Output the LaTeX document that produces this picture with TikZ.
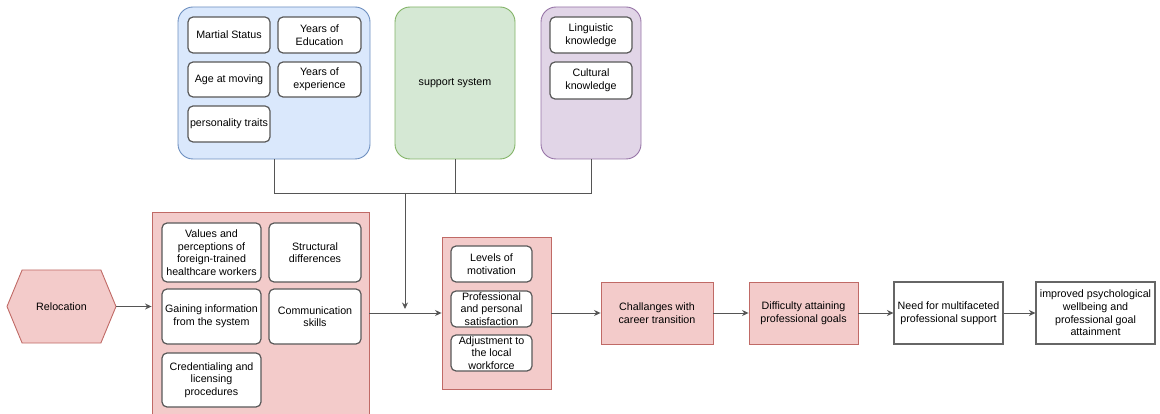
\documentclass[tikz,border=0pt]{standalone}
\usepackage{fontspec}
\setmainfont{Liberation Sans}
\usepackage[dvipsnames,svgnames,x11names]{xcolor}
\usetikzlibrary{arrows.meta,shapes.symbols}

\definecolor{blueFill}{HTML}{DAE8FC}
\definecolor{blueLine}{HTML}{6C8EBF}
\definecolor{greenFill}{HTML}{D5E8D4}
\definecolor{greenLine}{HTML}{82B366}
\definecolor{purpleFill}{HTML}{E1D5E7}
\definecolor{purpleLine}{HTML}{9673A6}
\definecolor{redFill}{HTML}{F3CBCA}
\definecolor{redLine}{HTML}{C06A66}
\definecolor{wireGray}{HTML}{555555}

\begin{document}
\begin{tikzpicture}[x=1pt,y=-1pt,font=\fontsize{10.7}{12.6}\selectfont,>={Stealth[length=6.5pt,width=6pt]},
  group/.style={rectangle,rounded corners=15pt,line width=0.9pt,minimum height=152pt,inner sep=0pt,align=center},
  panel/.style={rectangle,fill=redFill,draw=redLine,line width=0.9pt,inner sep=0pt},
  item/.style={rectangle,rounded corners=5pt,fill=white,draw=black!65,line width=1.2pt,inner sep=0pt,align=center},
  stage/.style={rectangle,draw=black!60,line width=1.1pt,minimum height=62pt,inner sep=0pt,align=center},
  wire/.style={draw=wireGray,line width=0.9pt}]
\useasboundingbox (0,0) rectangle (1160,414);

% personal background
\node[group,fill=blueFill,draw=blueLine,minimum width=192pt] (personal) at (274,83) {};
\node[item,minimum width=82pt,minimum height=36pt] (marital) at (229,35) {Martial Status};
\node[item,minimum width=83pt,minimum height=36pt] (education) at (319.5,35) {Years of\\Education};
\node[item,minimum width=82pt,minimum height=35pt] (age) at (229,79.5) {Age at moving};
\node[item,minimum width=83pt,minimum height=35pt] (experience) at (319.5,79.5) {Years of\\experience};
\node[item,minimum width=82pt,minimum height=36pt] (traits) at (229,124) {personality traits};

\node[group,fill=greenFill,draw=greenLine,minimum width=120pt] (support) at (455,83) {support system};

\node[group,fill=purpleFill,draw=purpleLine,minimum width=100pt] (language) at (591,83) {};
\node[item,minimum width=82pt,minimum height=36pt] (linguistic) at (591,35) {Linguistic\\knowledge};
\node[item,minimum width=82pt,minimum height=37pt] (cultural) at (591,80.5) {Cultural\\knowledge};

% relocation and first barriers
\node[signal,signal to=west and east,signal pointer angle=135,fill=redFill,draw=redLine,line width=0.9pt,minimum width=109pt,minimum height=73pt,inner sep=0pt] (relocation) at (61.5,306.5) {Relocation};

\node[panel,minimum width=217pt,minimum height=202pt] (barriers) at (260.5,313) {};
\node[item,minimum width=99pt,minimum height=59pt] (values) at (211.5,252.5) {Values and\\perceptions of\\foreign-trained\\healthcare workers};
\node[item,minimum width=92pt,minimum height=59pt] (structural) at (315,252.5) {Structural\\differences};
\node[item,minimum width=99pt,minimum height=55pt] (gaining) at (211.5,316.5) {Gaining information\\from the system};
\node[item,minimum width=92pt,minimum height=55pt] (communication) at (315,316.5) {Communication\\skills};
\node[item,minimum width=99pt,minimum height=54pt] (credentials) at (211.5,380) {Credentialing and\\licensing\\procedures};

% personal factors
\node[panel,minimum width=109pt,minimum height=152pt] (factors) at (496.5,313) {};
\node[item,minimum width=81pt,minimum height=36pt] (motivation) at (491.5,264) {Levels of\\motivation};
\node[item,minimum width=81pt,minimum height=36pt] (satisfaction) at (491.5,309) {Professional\\and personal\\satisfaction};
\node[item,minimum width=81pt,minimum height=36pt] (adjustment) at (491.5,353) {Adjustment to\\the local\\workforce};

% outcomes
\node[stage,fill=redFill,draw=redLine,line width=0.9pt,minimum width=112pt] (challenge) at (657,313) {Challanges with\\career transition};
\node[stage,fill=redFill,draw=redLine,line width=0.9pt,minimum width=109pt] (difficulty) at (803.5,313) {Difficulty attaining\\professional goals};
\node[stage,fill=white,minimum width=109pt] (need) at (948.5,313) {Need for multifaceted\\professional support};
\node[stage,fill=white,minimum width=119pt] (improved) at (1095.5,313) {improved psychological\\wellbeing and\\professional goal\\attainment};

\coordinate (join) at (405,193);
\coordinate (merge) at (405,313);

\draw[wire] (personal.south) |- (join);
\draw[wire] (support.south) |- (join);
\draw[wire] (language.south) |- (join);
\draw[wire,->,shorten >=4pt] (join) -- (merge);

\draw[wire,->] (relocation.east) -- (relocation.east -| barriers.west);
\draw[wire,->] (barriers.east) -- (factors.west);
\draw[wire,->] (factors.east) -- (challenge.west);
\draw[wire,->] (challenge.east) -- (difficulty.west);
\draw[wire,->] (difficulty.east) -- (need.west);
\draw[wire,->] (need.east) -- (improved.west);
\end{tikzpicture}
\end{document}
